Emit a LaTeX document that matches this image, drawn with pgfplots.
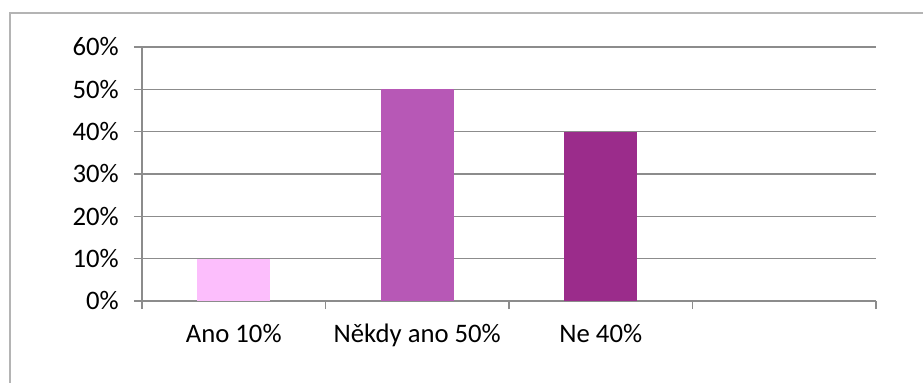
\documentclass[border=0pt]{standalone}
\usepackage{pgfplots}
\pgfplotsset{compat=1.18}
\usepackage{fontspec}
\setmainfont{Carlito}
\definecolor{gridc}{RGB}{140,140,140}
\definecolor{framec}{RGB}{180,180,180}
\definecolor{barA}{RGB}{252,190,252}
\definecolor{barB}{RGB}{183,88,182}
\definecolor{barC}{RGB}{155,44,139}
\begin{document}
\fontsize{26.7bp}{32bp}\selectfont
\begin{tikzpicture}
\path[use as bounding box] (0bp,0bp) rectangle (923bp,383bp);
\draw[line width=2bp, framec] (10bp,0bp) -- (10bp,370bp) -- (923bp,370bp);
\begin{axis}[
  at={(142bp,82bp)}, anchor=south west,
  scale only axis, width=734bp, height=254bp,
  xmin=-0.5, xmax=3.5, ymin=0, ymax=60,
  ytick={0,10,...,60},
  yticklabel={\pgfmathprintnumber{\tick}\%},
  /pgf/number format/assume math mode=true,
  ymajorgrids, grid style={gridc, line width=1.6bp},
  axis x line*=bottom, axis y line*=left,
  axis line style={gridc, line width=1.6bp},
  tick style={gridc, line width=1.6bp},
  major tick length=8bp, tick align=outside,
  xtick={-0.5,0.5,1.5,2.5,3.5}, xticklabels={},
  extra x ticks={0,1,2},
  extra x tick labels={Ano 10\%, Někdy ano 50\%, Ne 40\%},
  extra x tick style={major tick length=0pt, xticklabel style={anchor=base, yshift=-41bp}},
  yticklabel style={anchor=east, inner sep=0pt, xshift=-15bp},
  tick label style={font=\fontsize{26.7bp}{32bp}\selectfont},
  ybar, bar width=73bp,
]
\addplot[fill=barA, draw=none, bar shift=0pt] coordinates {(0,10)};
\addplot[fill=barB, draw=none, bar shift=0pt] coordinates {(1,50)};
\addplot[fill=barC, draw=none, bar shift=0pt] coordinates {(2,40)};
\end{axis}
\end{tikzpicture}
\end{document}
